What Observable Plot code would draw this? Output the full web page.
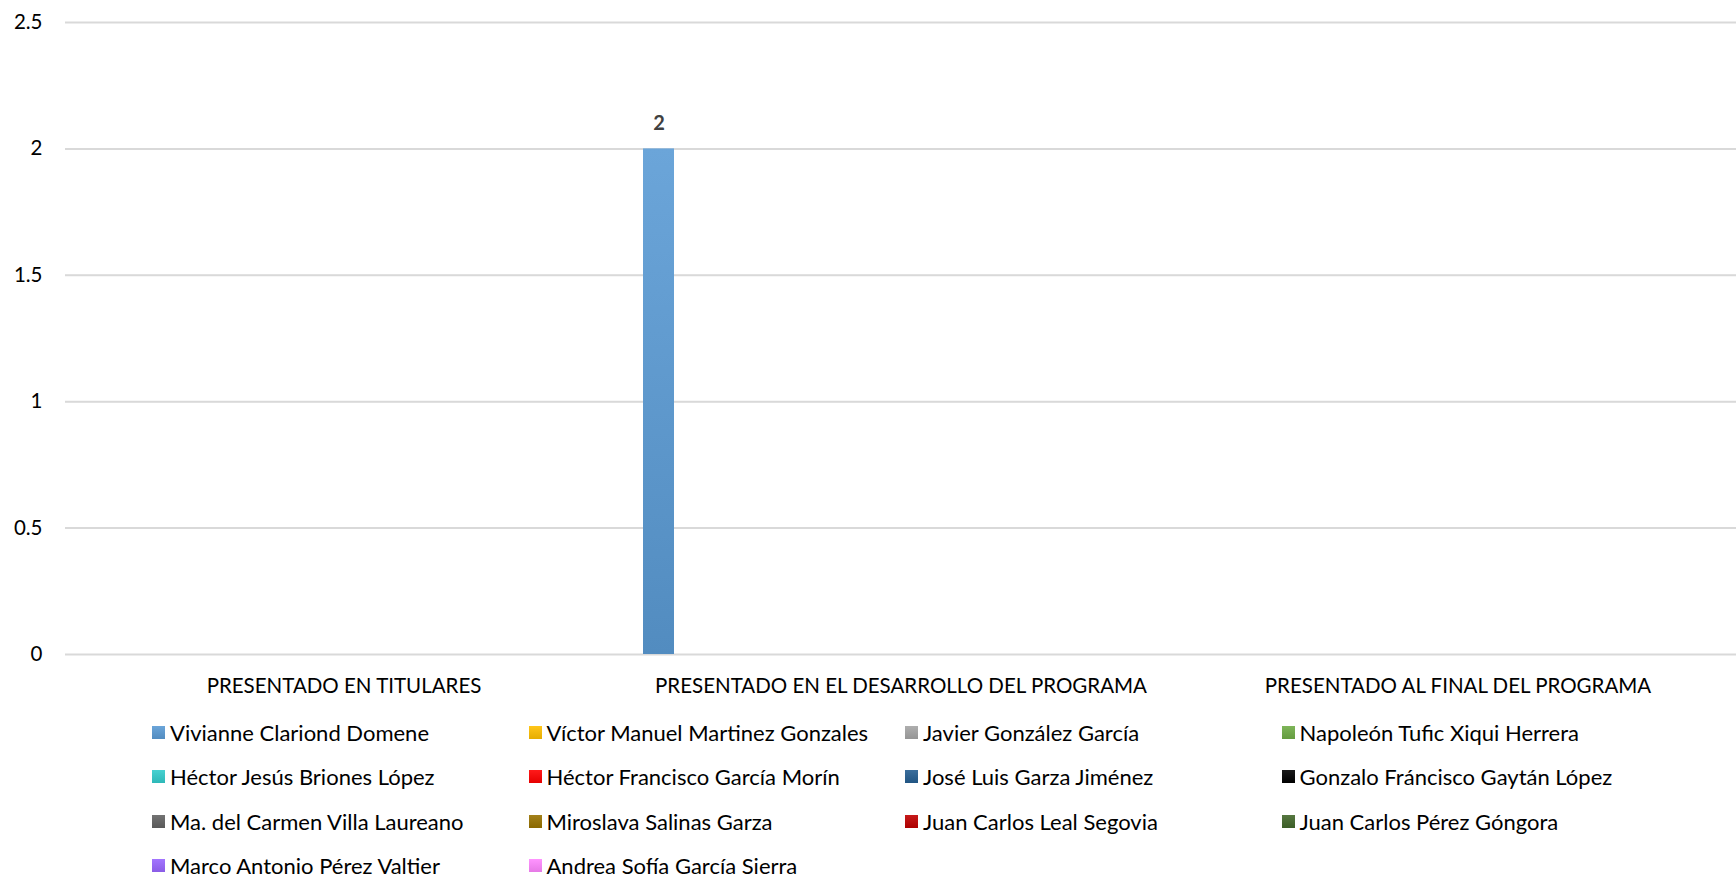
<!DOCTYPE html>
<html>
<head>
<meta charset="utf-8">
<script src="https://cdn.jsdelivr.net/npm/d3@7"></script>
<script src="https://cdn.jsdelivr.net/npm/@observablehq/plot@0.6"></script>
<style>
  html, body { margin: 0; padding: 0; background: #fff; overflow: hidden; }
  body { width: 1736px; height: 876px; font-family: Lato, "Open Sans", sans-serif; }
  #legend { position: absolute; left: 152px; top: 710px; display: grid; grid-template-columns: repeat(4, 376.5px); grid-auto-rows: 44.5px; }
  .item { display: flex; align-items: center; font-size: 22px; color: #000; white-space: nowrap; }
  .sw { width: 13px; height: 13px; margin-right: 5px; flex: none; }
</style>
</head>
<body>
<div id="chart"></div>
<div id="legend"></div>
<script>
const categories = [
  "PRESENTADO EN TITULARES",
  "PRESENTADO EN EL DESARROLLO DEL PROGRAMA",
  "PRESENTADO AL FINAL DEL PROGRAMA"
];
const series = [
  "Vivianne Clariond Domene",
  "Víctor Manuel Martinez Gonzales",
  "Javier González García",
  "Napoleón Tufic Xiqui Herrera",
  "Héctor Jesús Briones López",
  "Héctor Francisco García Morín",
  "José Luis Garza Jiménez",
  "Gonzalo Fráncisco Gaytán López",
  "Ma. del Carmen Villa Laureano",
  "Miroslava Salinas Garza",
  "Juan Carlos Leal Segovia",
  "Juan Carlos Pérez Góngora",
  "Marco Antonio Pérez Valtier",
  "Andrea Sofía García Sierra"
];
const colors = [
  "#5b9bd5", "#ffc000", "#a5a5a5", "#70ad47", "#33cccc", "#ff0000", "#255e91",
  "#000000", "#636363", "#997300", "#c00000", "#43682b", "#9966ff", "#ff88ff"
];
const valuesTitulares  = [0, 0, 0, 0, 0, 0, 0, 0, 0, 0, 0, 0, 0, 0];
const valuesDesarrollo = [2, 0, 0, 0, 0, 0, 0, 0, 0, 0, 0, 0, 0, 0];
const valuesFinal      = [0, 0, 0, 0, 0, 0, 0, 0, 0, 0, 0, 0, 0, 0];
const yTicks = [0, 0.5, 1, 1.5, 2, 2.5];

const valueSets = [valuesTitulares, valuesDesarrollo, valuesFinal];
const data = [];
categories.forEach((c, ci) => series.forEach((s, si) => data.push({category: c, series: s, value: valueSets[ci][si]})));
const nonZero = data.filter(d => d.value > 0);

const fills = colors.map((c, i) => "url(#grad" + i + ")");
const topCol = c => d3.interpolateRgb(c, "#ffffff")(0.1);
const botCol = c => d3.interpolateRgb(c, "#000000")(0.1);

const plot = Plot.plot({
  width: 1736,
  height: 710,
  marginLeft: 64,
  marginRight: 0,
  marginTop: 22,
  marginBottom: 56,
  style: {fontFamily: "Lato, 'Open Sans', sans-serif", fontSize: "20.5px", color: "#000", background: "#fff"},
  fx: {domain: categories, padding: 0, label: null, axis: "bottom", tickSize: 0, tickPadding: 24},
  x: {domain: series, paddingInner: 0, paddingOuter: 1.708, align: 0.171, axis: null},
  y: {domain: [0, 2.5], ticks: yTicks, label: null, tickSize: 0, tickPadding: 23, grid: true, tickFormat: d => String(d)},
  color: {domain: series, range: fills},
  marks: [
    Plot.gridY(yTicks, {stroke: "#d9d9d9", strokeOpacity: 1, strokeWidth: 2}),
    Plot.barY(data, {fx: "category", x: "series", y: "value", fill: "none"}),
    Plot.barY(nonZero, {fx: "category", x: "series", y: "value", fill: "series", style: "filter: drop-shadow(0 0 2px rgba(0,0,0,0.35))"}),
    Plot.text(nonZero, {fx: "category", x: "series", y: "value", text: d => String(d.value), dy: -25, fontWeight: "bold", fill: "#404040", fontSize: 20})
  ]
});

// gradients for bars
const ns = "http://www.w3.org/2000/svg";
const defs = document.createElementNS(ns, "defs");
colors.forEach((c, i) => {
  const g = document.createElementNS(ns, "linearGradient");
  g.setAttribute("id", "grad" + i);
  g.setAttribute("x1", "0"); g.setAttribute("y1", "0"); g.setAttribute("x2", "0"); g.setAttribute("y2", "1");
  [[0, topCol(c)], [1, botCol(c)]].forEach(([o, col]) => {
    const s = document.createElementNS(ns, "stop");
    s.setAttribute("offset", o);
    s.setAttribute("stop-color", col);
    g.appendChild(s);
  });
  defs.appendChild(g);
});
plot.insertBefore(defs, plot.firstChild);
document.getElementById("chart").appendChild(plot);

// legend
const legend = document.getElementById("legend");
series.forEach((s, i) => {
  const item = document.createElement("div");
  item.className = "item";
  const sw = document.createElement("span");
  sw.className = "sw";
  sw.style.background = `linear-gradient(${topCol(colors[i])}, ${botCol(colors[i])})`;
  const t = document.createElement("span");
  t.textContent = s;
  item.appendChild(sw);
  item.appendChild(t);
  legend.appendChild(item);
});
</script>
</body>
</html>
